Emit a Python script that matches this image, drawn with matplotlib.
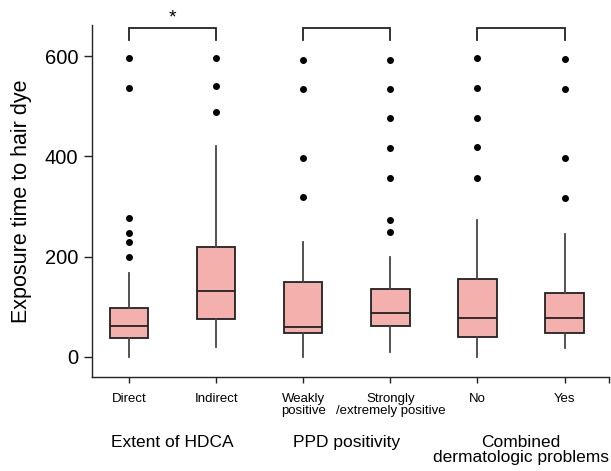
import matplotlib
matplotlib.use("Agg")
import matplotlib.pyplot as plt

plt.rcParams['font.family'] = ['Liberation Sans', 'DejaVu Sans']

categories = ["Direct", "Indirect", "Weakly\npositive", "Strongly\n/extremely positive", "No", "Yes"]
groups = ["Extent of HDCA", "PPD positivity", "Combined\ndermatologic problems"]
whislo = [0, 19, 0, 9, 0, 17]
q1 = [37, 76, 48, 62, 39, 48]
med = [62, 131, 60, 87, 77, 77]
q3 = [98, 220, 149, 135, 155, 128]
whishi = [167, 421, 229, 200, 273, 246]
fliers = [
    [200, 229, 248, 277, 536, 597],
    [489, 540, 597],
    [318, 396, 534, 593],
    [249, 274, 357, 416, 477, 535, 593],
    [357, 419, 477, 537, 597],
    [316, 396, 534, 595],
]
sig = ["*", "", ""]
yticks = [0, 200, 400, 600]

fig = plt.figure(figsize=(6.11, 4.71), dpi=100)
ax = fig.add_axes([0.150, 0.1996, 0.8467, 0.7474])

stats = []
for i in range(6):
    stats.append(dict(med=med[i], q1=q1[i], q3=q3[i], whislo=whislo[i],
                      whishi=whishi[i], fliers=fliers[i], label=categories[i]))
positions = list(range(1, 7))
ax.bxp(stats, positions=positions, widths=0.44, patch_artist=True, showcaps=False,
       boxprops=dict(facecolor="#F4B0AD", edgecolor="#222222", linewidth=1.3),
       medianprops=dict(color="#222222", linewidth=1.3),
       whiskerprops=dict(color="#444444", linewidth=1.3),
       flierprops=dict(marker="o", markerfacecolor="black", markeredgecolor="black",
                       markersize=4))

ax.set_xlim(0.57, 6.51)
ax.set_ylim(-40, 662)
ax.spines['top'].set_visible(False)
ax.spines['right'].set_visible(False)
ax.set_yticks(yticks)
ax.set_yticklabels([str(v) for v in yticks], fontsize=14.5)
ax.set_xticks(positions + [6.51])
ax.set_xticklabels(categories + [""], fontsize=9.5, linespacing=1.0)
ax.tick_params(axis='x', direction='out', length=4.5, width=1.0, color="#222222", pad=7)
ax.tick_params(axis='y', direction='out', length=5.5, width=1.0, color="#222222", pad=4)
ax.set_ylabel("Exposure time to hair dye", fontsize=15.5, labelpad=9)
for s in ['left', 'bottom']:
    ax.spines[s].set_linewidth(1.0)
    ax.spines[s].set_color("#222222")

# brackets
for g in range(3):
    x1, x2 = positions[2 * g], positions[2 * g + 1]
    ax.plot([x1, x1, x2, x2], [633, 655, 655, 633], color="#222222", lw=1.3,
            clip_on=False, solid_joinstyle='miter')
    if sig[g]:
        ax.text((x1 + x2) / 2, 676, sig[g], ha='center', va='center', fontsize=14,
                clip_on=False)

# group labels
for g in range(3):
    xc = (positions[2 * g] + positions[2 * g + 1]) / 2
    ax.annotate(groups[g], xy=(xc, 0), xycoords=('data', 'axes fraction'),
                xytext=(0, -42), textcoords='offset points', ha='center', va='top',
                fontsize=12.5, linespacing=1.0)

fig.savefig("out.png", dpi=100)
